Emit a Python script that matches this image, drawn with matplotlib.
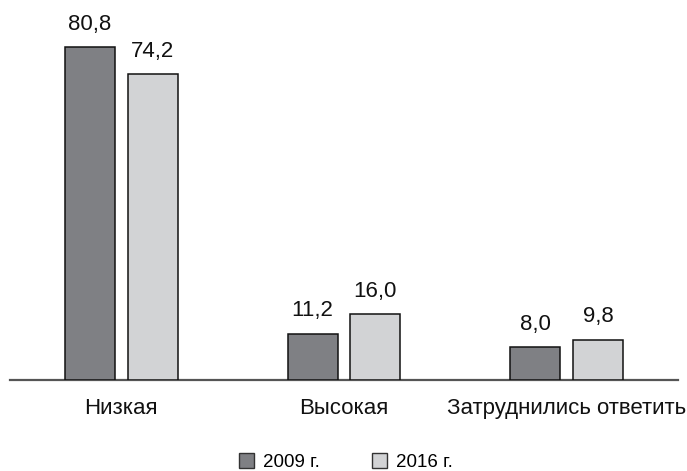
import matplotlib
matplotlib.use("Agg")
import matplotlib.pyplot as plt
from matplotlib.patches import Patch
import numpy as np

plt.rcParams['font.family'] = ['Liberation Sans', 'DejaVu Sans']

categories = ["Низкая", "Высокая", "Затруднились ответить"]
series_names = ["2009 г.", "2016 г."]
values_2009 = [80.8, 11.2, 8.0]
values_2016 = [74.2, 16.0, 9.8]

colors = ["#7f8084", "#d2d3d5"]

W, H = 687, 471
fig = plt.figure(figsize=(W / 100, H / 100), dpi=100)
# axes in pixel coords: left 10, right 678, bottom at y=380 (from top), top at y=30
ax = fig.add_axes([10 / W, (H - 380) / H, 668 / W, 350 / H])

x = np.arange(len(categories))
bw = 0.224
off = 0.141
for vals, c, sgn in [(values_2009, colors[0], -1), (values_2016, colors[1], 1)]:
    bars = ax.bar(x + sgn * off, vals, width=bw, color=c, edgecolor="#111111",
                  linewidth=1.1, zorder=3)
    for b, v in zip(bars, vals):
        ax.annotate(f"{v:.1f}".replace(".", ","), (b.get_x() + b.get_width() / 2, v),
                    xytext=(0, 9), textcoords="offset points", ha="center",
                    va="bottom", fontsize=16, color="#111111")

ax.set_xlim(-0.5, 2.5)
ax.set_ylim(0, 85)
for s in ["top", "right", "left"]:
    ax.spines[s].set_visible(False)
ax.spines["bottom"].set_color("#555555")
ax.spines["bottom"].set_linewidth(1.6)
ax.set_yticks([])
ax.set_xticks(x)
ax.set_xticklabels(categories, fontsize=16, color="#111111")
ax.tick_params(axis="x", length=0, pad=13)

handles = [Patch(facecolor=colors[i], edgecolor="#333333", linewidth=1.0,
                 label=series_names[i]) for i in range(2)]
fig.legend(handles=handles, loc="center", bbox_to_anchor=(346 / W, (H - 462) / H),
           ncol=2, frameon=False, fontsize=13.5, handlelength=0.8, handleheight=0.8,
           handletextpad=0.48, columnspacing=2.8)

fig.savefig("out.png", dpi=100)
